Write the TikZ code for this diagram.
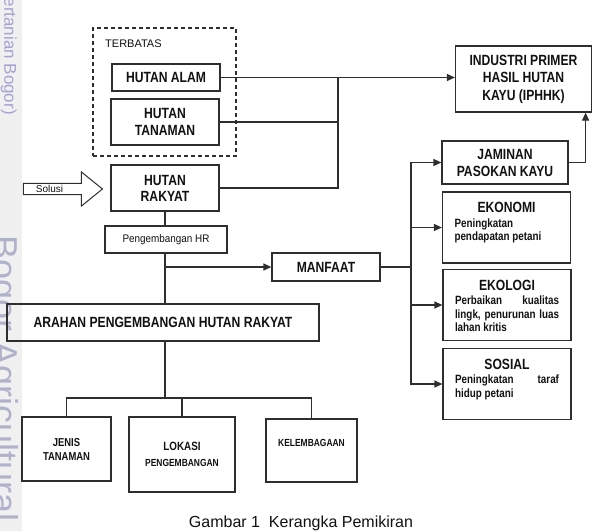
\documentclass[tikz,border=0pt]{standalone}
\usepackage{fontspec}
\setmainfont{Liberation Sans}
\newfontfamily\narrowfont[FakeStretch=0.82]{Liberation Sans}
\newfontfamily\semifont[FakeStretch=0.9]{Liberation Sans}
\usepackage{tikz}
\usetikzlibrary{positioning,arrows.meta,calc,shapes.arrows}
\definecolor{kLine}{HTML}{2E2E2E}
\definecolor{kText}{HTML}{111111}
\definecolor{kStrip}{HTML}{F0F0F0}
\definecolor{kMarkTop}{HTML}{A3A3D2}
\definecolor{kMarkBot}{HTML}{B0B2CC}
\newcommand{\kHead}{\narrowfont\bfseries\fontsize{14.8}{17}\selectfont}
\newcommand{\kBody}{\narrowfont\bfseries\fontsize{12}{13.4}\selectfont}
\newcommand{\kSmall}{\narrowfont\bfseries\fontsize{10.3}{12}\selectfont}
\newcommand{\kTitle}[1]{\makebox[104pt][c]{\kHead #1}}

\begin{document}
\begin{tikzpicture}[x=1pt, y=-1pt, text=kText,
  box/.style={draw=kLine, line width=1.2pt, inner sep=0pt, align=center, font=\kHead},
  infobox/.style={draw=kLine, line width=1.2pt, font=\kBody, text width=104pt, align=justify,
    inner xsep=12pt, inner ysep=9.5pt, text height=11pt, text depth=41pt,
    minimum width=128pt},
  ln/.style={draw=kLine, line width=1.2pt},
  arr/.style={draw=kLine, line width=1.2pt, -{Triangle[length=8pt,width=7pt]}}]
\useasboundingbox (0,0) rectangle (593,531);
% watermark strip
\fill[kStrip] (0,0) rectangle (22,531);
\begin{scope}
\clip (0,0) rectangle (22,531);
\node[rotate=-90, anchor=base east, inner sep=0pt, text=kMarkTop, font=\fontsize{17}{19}\selectfont] (markTop) at (4.5,115) {Pertanian Bogor)};
\node[rotate=-90, anchor=base west, inner sep=0pt, text=kMarkBot, font=\fontsize{36}{40}\selectfont] (markBot) at (-8,235) {Bogor Agricultural};
\end{scope}
% left column
\node[draw=kLine, line width=1.1pt, dash pattern=on 4pt off 3pt, minimum width=143pt, minimum height=128pt] (terbatas) at (164.5,92) {};
\node[anchor=base west, inner sep=0pt, font=\fontsize{11}{13}\selectfont] (terbatasLbl) at (105,47.3) {TERBATAS};
\node[box, minimum width=108pt, minimum height=27pt] (alam) at (166,77.5) {HUTAN ALAM};
\node[box, minimum width=108pt, minimum height=46pt] (tanaman) at (165,122) {HUTAN\\TANAMAN};
\node[box, minimum width=108pt, minimum height=46pt] (rakyat) at (165,188) {HUTAN\\[-1pt]RAKYAT};
\node[single arrow, draw=kLine, line width=1pt, minimum height=79pt, minimum width=34pt,
  single arrow head extend=8.5pt, single arrow tip angle=78, inner sep=0pt,
  font=\fontsize{10}{12}\selectfont] (solusi) at (59.5,189) {Solusi\hspace*{20pt}};
\node[box, font=\semifont\fontsize{11}{13}\selectfont, minimum width=122pt, minimum height=27pt] (pengHR) at (166,239.5) {Pengembangan HR};
\node[box, minimum width=108pt, minimum height=28pt] (manfaat) at (326,267) {MANFAAT};
\node[box, minimum width=312pt, minimum height=37pt] (arahan) at (163,322.5) {ARAHAN PENGEMBANGAN HUTAN RAKYAT};
\node[box, font=\narrowfont\bfseries\fontsize{11.5}{14}\selectfont, minimum width=89pt, minimum height=64pt] (jenis) at (66.5,449) {JENIS\\TANAMAN};
\node[box, minimum width=106pt, minimum height=75pt] (lokasi) at (182,454.5) {{\narrowfont\bfseries\fontsize{12}{14}\selectfont LOKASI}\\[-1pt]{\kSmall PENGEMBANGAN}};
\node[box, font=\kSmall, minimum width=91pt, minimum height=63pt, text depth=15pt] (kelembagaan) at (311.5,450.5) {KELEMBAGAAN};
% right column
\node[box, minimum width=136pt, minimum height=66pt] (iphhk) at (523.5,79) {INDUSTRI PRIMER\\[0.5pt]HASIL HUTAN\\[0.5pt]KAYU (IPHHK)};
\node[box, minimum width=126pt, minimum height=43pt] (jaminan) at (505,162.5) {JAMINAN\\PASOKAN KAYU};
\node[infobox] (ekonomi) at (506.5,227.5) {\kTitle{EKONOMI}\\[1.5pt]Peningkatan\\pendapatan petani};
\node[infobox] (ekologi) at (507,305) {\kTitle{EKOLOGI}\\[1.5pt]Perbaikan kualitas\linebreak lingk, penurunan luas\linebreak lahan kritis};
\node[infobox] (sosial) at (507,384) {\kTitle{SOSIAL}\\[1.5pt]Peningkatan taraf\linebreak hidup petani};
% connectors
\coordinate (hubA) at (338,77.5);
\coordinate (hubB) at (411,267);
\coordinate (hubD) at (165,398);
\draw[arr] (alam.east) -- (alam.east -| iphhk.west);
\draw[ln] (tanaman.east) -- (tanaman.east -| hubA);
\draw[ln] (rakyat.east) -| (hubA);
\draw[arr] (jaminan.east) -| ([xshift=-6.5pt]iphhk.south east);
\draw[ln] (manfaat.east) -- (hubB);
\draw[arr] (hubB) |- (jaminan.west);
\draw[arr] (hubB) |- (ekonomi.west);
\draw[arr] (hubB) |- (ekologi.west);
\draw[arr] (hubB) |- (sosial.west);
\draw[ln] (rakyat.south) -- (rakyat.south |- pengHR.north);
\draw[ln] (rakyat.south |- pengHR.south) -- (rakyat.south |- arahan.north);
\draw[arr] (rakyat.south |- manfaat.west) -- (manfaat.west);
\draw[ln] (arahan.south -| hubD) -- (hubD);
\draw[ln] (jenis.north) |- (hubD) -| (kelembagaan.north);
\draw[ln] (lokasi.north) -- (lokasi.north |- hubD);
\node[anchor=base, inner sep=0pt, font=\fontsize{16}{18}\selectfont] (caption) at (301,527) {Gambar 1\ \ Kerangka Pemikiran};
\end{tikzpicture}
\end{document}
